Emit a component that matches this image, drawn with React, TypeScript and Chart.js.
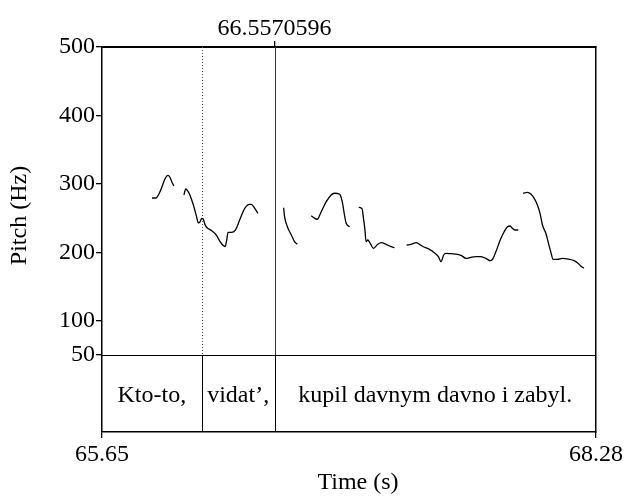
import React, { useEffect, useRef } from 'react';
import { Chart, registerables } from 'chart.js';

Chart.register(...registerables);

// ---- axis ranges & ticks ----
const T_MIN = 65.65;
const T_MAX = 68.28;
const F_MIN = 50;
const F_MAX = 500;
const TIER_BOTTOM = -62.5; // extension of the vertical axis used for the text tier
const yTickValues = [50, 100, 200, 300, 400, 500];
const xTickValues = [65.65, 68.28];
const markTime = 66.569; // position of the marked boundary
const markLabel = '66.5570596';

// ---- text tier ----
const tierBoundaries = [66.181, markTime];
const tierLabels = ['Kto-to,', 'vidat’,', 'kupil davnym davno i zabyl.'];

// ---- pitch contour segments (time s, pitch Hz) ----
const seg1T = [65.916, 65.937, 65.953, 65.969, 65.985, 66.001, 66.011, 66.022, 66.033];
const seg1F = [279.4, 279.4, 285.2, 295.5, 307.1, 312.3, 310.1, 302.8, 296.9];

const seg2T = [66.086, 66.096, 66.107, 66.118, 66.133, 66.144, 66.155, 66.163, 66.171, 66.181, 66.189, 66.197, 66.208, 66.232, 66.258, 66.282, 66.306, 66.314, 66.321, 66.339, 66.36, 66.383, 66.41, 66.436, 66.445, 66.463, 66.48];
const seg2F = [283.8, 292.5, 289.6, 283.8, 272.1, 261.9, 250.2, 242.9, 244.3, 249.4, 248.7, 241.4, 236.3, 231.9, 225.3, 214.4, 208.5, 218.0, 229.3, 229.3, 232.6, 247.2, 264.3, 270.2, 270.2, 264.3, 257.0];

const seg3T = [66.617, 66.622, 66.637, 66.658, 66.675, 66.69];
const seg3F = [265.2, 252.1, 237.5, 225.3, 215.5, 211.7];

const seg4T = [66.764, 66.778, 66.796, 66.817, 66.844, 66.87, 66.888, 66.915, 66.929, 66.941, 66.95, 66.968];
const seg4F = [253.5, 250.6, 248.3, 259.4, 274.0, 283.8, 286.3, 284.8, 274.0, 254.5, 242.4, 237.5];

const seg5T = [67.017, 67.035, 67.042, 67.049, 67.056, 67.065, 67.078, 67.095, 67.118, 67.136, 67.163, 67.189, 67.207];
const seg5F = [265.8, 263.3, 249.7, 235.1, 215.5, 218.0, 213.2, 205.9, 211.7, 214.1, 211.7, 208.2, 206.8];

const seg6T = [67.272, 67.295, 67.322, 67.34, 67.361, 67.393, 67.419, 67.441, 67.455, 67.469, 67.481, 67.508, 67.543, 67.564, 67.588, 67.614, 67.641, 67.667, 67.685, 67.702, 67.717, 67.729, 67.747, 67.77, 67.791, 67.809, 67.823, 67.835, 67.848, 67.866];
const seg6F = [210.7, 211.7, 214.1, 211.7, 208.2, 204.4, 199.5, 193.6, 186.3, 196.1, 198.6, 198.0, 197.1, 195.1, 191.3, 192.7, 193.6, 193.6, 192.2, 189.8, 187.8, 189.8, 200.9, 218.0, 230.1, 237.5, 238.5, 235.1, 232.6, 232.6];

const seg7T = [67.892, 67.915, 67.933, 67.951, 67.968, 67.982, 67.995, 68.013, 68.027, 68.039, 68.052, 68.074, 68.101, 68.137, 68.163, 68.181, 68.199, 68.216];
const seg7F = [286.3, 287.7, 285.2, 278.9, 269.2, 257.0, 239.9, 227.8, 213.2, 200.9, 189.8, 189.8, 191.3, 189.8, 187.8, 184.9, 180.0, 176.7];

const segments = [
  [seg1T, seg1F],
  [seg2T, seg2F],
  [seg3T, seg3F],
  [seg4T, seg4F],
  [seg5T, seg5F],
  [seg6T, seg6F],
  [seg7T, seg7F],
];

const FONT_FAMILY = '"Liberation Serif", "Times New Roman", serif';
const FONT_SIZE = 24;

const overlayPlugin = {
  id: 'praatOverlay',
  beforeDatasetsDraw(chart: any) {
    const { ctx, chartArea, scales } = chart;
    const { left, right, bottom } = chartArea;
    const x = scales.x;
    const y = scales.y;
    const top = y.getPixelForValue(F_MAX);
    const y50 = y.getPixelForValue(F_MIN);
    ctx.save();
    ctx.strokeStyle = '#000';
    ctx.lineWidth = 1;
    ctx.beginPath();
    ctx.moveTo(left, Math.round(y50) + 0.5);
    ctx.lineTo(right, Math.round(y50) + 0.5);
    ctx.stroke();
    tierBoundaries.forEach((b) => {
      const px = Math.round(x.getPixelForValue(b)) + 0.5;
      ctx.setLineDash([]);
      ctx.strokeStyle = '#000';
      ctx.beginPath();
      ctx.moveTo(px, y50);
      ctx.lineTo(px, bottom);
      ctx.stroke();
      if (b === markTime) {
        ctx.strokeStyle = '#333';
        ctx.setLineDash([]);
      } else {
        ctx.strokeStyle = '#555';
        ctx.setLineDash([1, 2]);
      }
      ctx.beginPath();
      ctx.moveTo(px, top);
      ctx.lineTo(px, y50);
      ctx.stroke();
    });
    ctx.restore();
  },
  afterDraw(chart: any) {
    const { ctx, chartArea, scales } = chart;
    const x = scales.x;
    const y = scales.y;
    ctx.save();
    ctx.fillStyle = '#000';
    ctx.font = `${FONT_SIZE}px ${FONT_FAMILY}`;
    ctx.textAlign = 'center';
    ctx.textBaseline = 'middle';
    const edges = [T_MIN, ...tierBoundaries, T_MAX];
    const tierMid = y.getPixelForValue((F_MIN + TIER_BOTTOM) / 2);
    tierLabels.forEach((lab, i) => {
      const cx = (x.getPixelForValue(edges[i]) + x.getPixelForValue(edges[i + 1])) / 2;
      ctx.fillText(lab, cx, tierMid + 2);
    });
    // axis titles
    ctx.fillText('Time (s)', (chartArea.left + chartArea.right) / 2 + 9, chartArea.bottom + 51);
    ctx.translate(20, (chartArea.top + chartArea.bottom) / 2 - 24);
    ctx.rotate(-Math.PI / 2);
    ctx.fillText('Pitch (Hz)', 0, 0);
    ctx.restore();
  },
};

export default function App() {
  const canvasRef = useRef<HTMLCanvasElement | null>(null);

  useEffect(() => {
    const canvas = canvasRef.current;
    if (!canvas) return;
    const datasets = segments.map(([ts, fs]) => ({
      type: 'line' as const,
      data: ts.map((t, i) => ({ x: t, y: fs[i] })),
      borderColor: '#000',
      borderWidth: 1.3,
      pointRadius: 0,
      fill: false,
      cubicInterpolationMode: 'monotone' as const,
      xAxisID: 'x',
      yAxisID: 'y',
    }));
    const tickFont = { family: FONT_FAMILY, size: FONT_SIZE };
    const chart = new Chart(canvas, {
      type: 'line',
      data: { datasets },
      options: {
        responsive: false,
        animation: false,
        events: [],
        layout: { padding: 0 },
        plugins: { legend: { display: false }, tooltip: { enabled: false }, title: { display: false } },
        scales: {
          x: {
            type: 'linear',
            position: 'bottom',
            min: T_MIN,
            max: T_MAX,
            afterBuildTicks: (s: any) => { s.ticks = xTickValues.map((v) => ({ value: v })); },
            afterFit: (s: any) => { s.height = 66; },
            ticks: {
              autoSkip: false,
              maxRotation: 0,
              color: '#000',
              font: tickFont,
              padding: 2,
              callback: (v: any) => Number(v).toFixed(2),
            },
            grid: { drawOnChartArea: false, drawTicks: true, tickLength: 6, color: '#000', lineWidth: 1.3 },
            border: { display: true, color: '#000', width: 1.5 },
          },
          xTop: {
            type: 'linear',
            position: 'top',
            min: T_MIN,
            max: T_MAX,
            afterBuildTicks: (s: any) => { s.ticks = [{ value: markTime }]; },
            afterFit: (s: any) => { s.height = 47; },
            ticks: {
              autoSkip: false,
              maxRotation: 0,
              color: '#000',
              font: tickFont,
              padding: -2,
              callback: () => markLabel,
            },
            grid: { drawOnChartArea: false, drawTicks: true, tickLength: 6, color: '#000', lineWidth: 1.3 },
            border: { display: true, color: '#000', width: 2 },
          },
          y: {
            type: 'linear',
            position: 'left',
            min: TIER_BOTTOM,
            max: F_MAX,
            afterBuildTicks: (s: any) => { s.ticks = yTickValues.map((v) => ({ value: v })); },
            afterFit: (s: any) => { s.width = 102; },
            ticks: {
              autoSkip: false,
              color: '#000',
              font: tickFont,
              padding: 1,
              callback: (v: any) => String(v),
            },
            grid: { drawOnChartArea: false, drawTicks: true, tickLength: 6, color: '#000', lineWidth: 1.3 },
            border: { display: true, color: '#000', width: 1.5 },
          },
          yRight: {
            type: 'linear',
            position: 'right',
            min: TIER_BOTTOM,
            max: F_MAX,
            afterFit: (s: any) => { s.width = 28; },
            ticks: { display: false },
            grid: { display: false, drawTicks: false },
            border: { display: true, color: '#000', width: 1.5 },
          },
        },
      },
      plugins: [overlayPlugin],
    } as any);
    return () => chart.destroy();
  }, []);

  return (
    <div style={{ position: 'fixed', left: 0, top: 0, width: 625, height: 498, background: '#fff' }}>
      <canvas ref={canvasRef} width={625} height={498} style={{ display: 'block' }} />
    </div>
  );
}
